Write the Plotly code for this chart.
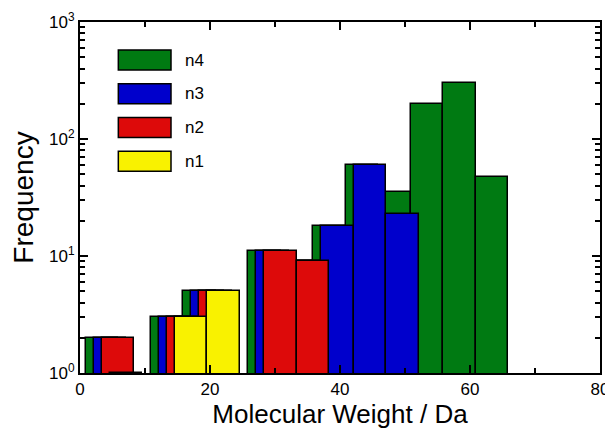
import plotly.graph_objects as go

# ---- data ----
series_names = ["n4", "n3", "n2", "n1"]
bin_width = 5.0
bin_origin = 0.85          # left edge of first n4 bin
series_shift = 1.25        # display offset between series
n4 = [2, None, 3, 5, None, 11, 9, 18, 60, 35, 200, 300, 47]
n3 = [2, None, 3, 5, None, 11, 9, 18, 60, 23, None, None, None]
n2 = [2, None, 3, 5, None, 11, 9, None, None, None, None, None, None]
n1 = [1, None, 3, 5, None, None, None, None, None, None, None, None, None]
counts = [n4, n3, n2, n1]
colors = ["#007a12", "#0000cc", "#dd0a0a", "#f9f200"]
y_tickvals = [1, 10, 100, 1000]
y_ticktext = ["10<sup>0</sup>", "10<sup>1</sup>", "10<sup>2</sup>", "10<sup>3</sup>"]

FONT = "Liberation Sans, Arial, Helvetica, sans-serif"

fig = go.Figure()
for i, (name, vals, col) in enumerate(zip(series_names, counts, colors)):
    xs = [bin_origin + i * series_shift + k * bin_width + bin_width / 2 for k in range(len(vals))]
    fig.add_trace(go.Bar(
        x=xs, y=vals, width=bin_width, name=name,
        marker=dict(color=col, line=dict(color="black", width=1.5)),
        opacity=1, showlegend=False,
    ))

# legend drawn as boxes + text (large swatches like the reference)
leg_x0, leg_x1 = 0.0737, 0.175
leg_top = 0.920
leg_h = 0.057
leg_step = 0.096
for i, (name, col) in enumerate(zip(series_names, colors)):
    y1 = leg_top - i * leg_step
    y0 = y1 - leg_h
    fig.add_shape(type="rect", xref="paper", yref="paper",
                  x0=leg_x0, x1=leg_x1, y0=y0, y1=y1,
                  fillcolor=col, line=dict(color="black", width=1.5))
    fig.add_annotation(xref="paper", yref="paper", x=0.198, y=(y0 + y1) / 2,
                       text=name, showarrow=False, xanchor="left", yanchor="middle",
                       font=dict(size=17, color="black", family=FONT))

# page body has an 8px margin -> figure drawn 8px in from the window corner
fig.update_layout(
    width=605, height=425,
    margin=dict(l=72, r=13, t=14, b=60),
    barmode="overlay",
    plot_bgcolor="white", paper_bgcolor="white",
    font=dict(family=FONT, color="black"),
    bargap=0,
)
fig.update_xaxes(
    range=[0, 80], dtick=20, tick0=0, automargin=False,
    ticks="inside", ticklen=8, tickwidth=1.5, tickcolor="black",
    minor=dict(dtick=10, ticks="inside", ticklen=5, tickwidth=1.5, tickcolor="black"),
    showline=True, linecolor="black", linewidth=2, mirror="ticks",
    showgrid=False, zeroline=False,
    tickfont=dict(size=17, family=FONT),
    title=dict(text="Molecular Weight / Da", font=dict(size=26, family=FONT), standoff=4),
)
fig.update_yaxes(
    type="log", range=[0, 3], automargin=False,
    tickvals=y_tickvals, ticktext=y_ticktext,
    ticks="inside", ticklen=8, tickwidth=1.5, tickcolor="black",
    minor=dict(dtick="D1", ticks="inside", ticklen=5, tickwidth=1.5, tickcolor="black"),
    showline=True, linecolor="black", linewidth=2, mirror="ticks",
    showgrid=False, zeroline=False,
    tickfont=dict(size=17, family=FONT),
    title=dict(text="Frequency", font=dict(size=28, family=FONT), standoff=8),
)

fig.write_html("out.html")
